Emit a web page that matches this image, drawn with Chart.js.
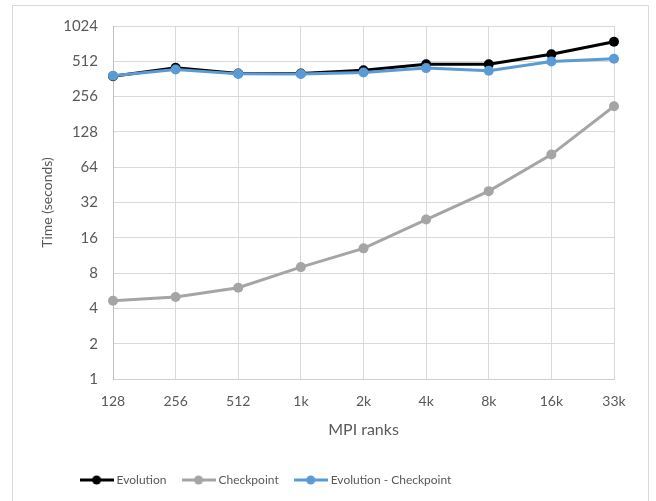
<!DOCTYPE html>
<html>
<head>
<meta charset="utf-8">
<script src="https://cdn.jsdelivr.net/npm/chart.js@4/dist/chart.umd.min.js"></script>
<style>
  html, body { margin: 0; padding: 0; background: #fff; }
  #wrap { width: 656px; height: 501px; }
</style>
</head>
<body>
<div id="wrap"><canvas id="c" width="656" height="501"></canvas></div>
<script>
// MPI rank counts on the x axis
const ranks = ['128', '256', '512', '1k', '2k', '4k', '8k', '16k', '33k'];

// Wall-clock time in seconds per run
const evolution = [382, 450, 403, 403, 430, 484, 484, 587, 752];
const checkpoint = [4.65, 5.0, 6.0, 9.0, 13.0, 22.9, 40.0, 82, 212];
const evolutionMinusCheckpoint = [385, 436, 400, 399, 411, 448, 425, 511, 538];

// Power-of-two ticks for the time axis
const timeTicks = [1, 2, 4, 8, 16, 32, 64, 128, 256, 512, 1024];

const FONT = 'Lato, "Open Sans", sans-serif';
const TEXT = '#595959';
const GRID = '#d9d9d9';

// Legend swatch: short line with a dot in the middle
function swatch(color) {
  const cv = document.createElement('canvas');
  cv.width = 34; cv.height = 10;
  const g = cv.getContext('2d');
  g.strokeStyle = color; g.lineWidth = 3;
  g.beginPath(); g.moveTo(0, 5); g.lineTo(34, 5); g.stroke();
  g.fillStyle = color;
  g.beginPath(); g.arc(17, 5, 4.5, 0, Math.PI * 2); g.fill();
  return cv;
}

// Light frame around the whole chart
const frame = {
  id: 'frame',
  beforeDraw(chart) {
    const ctx = chart.ctx;
    ctx.save();
    ctx.strokeStyle = '#d9d9d9';
    ctx.lineWidth = 1;
    ctx.strokeRect(12.5, 5.5, 636, 520);
    ctx.restore();
  }
};

// Nudge the legend row a little to the left of centre
const legendShift = {
  id: 'legendShift',
  afterLayout(chart) {
    const lg = chart.legend;
    if (lg) { lg.left -= 46; lg.right -= 46; }
  }
};

function series(label, data, color, order) {
  return {
    label, data, order,
    borderColor: color,
    backgroundColor: color,
    borderWidth: 3,
    pointRadius: 5,
    pointHoverRadius: 5,
    pointBorderWidth: 0,
    pointBackgroundColor: color,
    tension: 0,
    _swatch: swatch(color)
  };
}

new Chart(document.getElementById('c'), {
  type: 'line',
  data: {
    labels: ranks,
    datasets: [
      series('Evolution', evolution, '#000000', 2),
      series('Checkpoint', checkpoint, '#a5a5a5', 1),
      series('Evolution - Checkpoint', evolutionMinusCheckpoint, '#5b9bd5', 0)
    ]
  },
  options: {
    responsive: false,
    animation: false,
    events: [],
    layout: { padding: { left: 12, right: 42, top: 26, bottom: 5 } },
    plugins: {
      tooltip: { enabled: false },
      legend: {
        position: 'bottom',
        labels: {
          usePointStyle: true,
          pointStyleWidth: 28,
          color: TEXT,
          font: { family: FONT, size: 12 },
          padding: 18,
          generateLabels(chart) {
            return chart.data.datasets.map((ds, i) => ({
              text: ds.label,
              pointStyle: ds._swatch,
              fillStyle: ds.borderColor,
              strokeStyle: ds.borderColor,
              lineWidth: 0,
              fontColor: TEXT,
              datasetIndex: i,
              hidden: false
            }));
          }
        }
      }
    },
    scales: {
      x: {
        type: 'category',
        offset: false,
        grid: { color: GRID, lineWidth: 1, drawTicks: false, offset: false },
        border: { color: '#d0d0d0', width: 1 },
        ticks: { color: TEXT, font: { family: FONT, size: 14 }, padding: 14, maxRotation: 0 },
        title: {
          display: true, text: 'MPI ranks', color: TEXT,
          font: { family: FONT, size: 16 }, padding: { top: 4, bottom: 17 }
        },
        afterFit(scale) { scale.height = 77; }
      },
      y: {
        type: 'logarithmic',
        min: 1,
        max: 1024,
        grid: { color: GRID, lineWidth: 1, drawTicks: false },
        border: { color: '#bfbfbf', width: 1 },
        ticks: {
          color: TEXT, font: { family: FONT, size: 15 }, padding: 15,
          callback: (v) => String(v)
        },
        afterBuildTicks(scale) {
          scale.ticks = timeTicks.map(v => ({ value: v }));
        },
        title: {
          display: true, text: 'Time (seconds)', color: TEXT,
          font: { family: FONT, size: 14 }, padding: { top: 27, bottom: 0 }
        },
        afterFit(scale) { scale.width = 101; }
      }
    }
  },
  plugins: [frame, legendShift]
});
</script>
</body>
</html>
